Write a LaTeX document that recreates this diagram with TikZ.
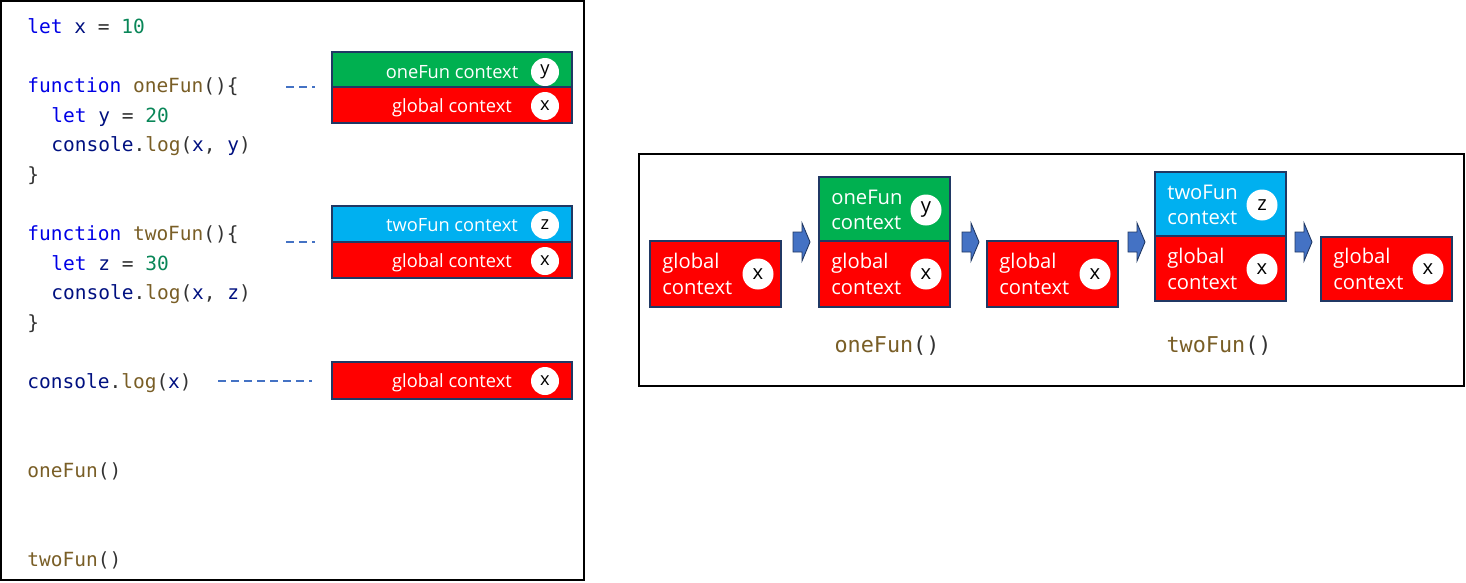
\documentclass[tikz,border=0pt]{standalone}
\usepackage{fontspec}
\setmainfont{Open Sans}
\setmonofont{DejaVu Sans Mono}
\usetikzlibrary{arrows.meta}

\definecolor{kwblue}{RGB}{0,0,230}
\definecolor{varnavy}{RGB}{0,16,128}
\definecolor{numgreen}{RGB}{9,134,88}
\definecolor{fnbrown}{RGB}{121,94,38}
\definecolor{punctgray}{RGB}{51,51,51}
\definecolor{ctxred}{RGB}{255,0,0}
\definecolor{ctxgreen}{RGB}{0,176,80}
\definecolor{ctxblue}{RGB}{0,176,240}
\definecolor{edgenavy}{RGB}{32,56,100}
\definecolor{dashblue}{RGB}{68,114,196}

\newcommand{\ckw}[1]{\textcolor{kwblue}{#1}}
\newcommand{\cvar}[1]{\textcolor{varnavy}{#1}}
\newcommand{\cnum}[1]{\textcolor{numgreen}{#1}}
\newcommand{\cfn}[1]{\textcolor{fnbrown}{#1}}

\begin{document}
\begin{tikzpicture}[
                x={(0.02cm,0cm)}, y={(0cm,-0.02cm)},
                code/.style={anchor=base west, inner sep=0pt, text=punctgray,
                    font=\ttfamily\fontsize{11.1}{13}\selectfont},
                call/.style={anchor=base, inner sep=0pt, text=punctgray,
                    font=\ttfamily\fontsize{12.4}{14}\selectfont},
                ctxbox/.style={draw=edgenavy, line width=0.8pt},
                lefttext/.style={text=white, inner sep=0pt, text height=0.86em, text depth=0.14em,
                    font=\fontsize{10.4}{12}\selectfont},
                righttext/.style={text=white, align=left, anchor=west, inner sep=0pt,
                    font=\fontsize{11.5}{14.6}\selectfont},
                varcircle/.style={circle, fill=white, inner sep=0pt, minimum size=0.56cm,
                    font=\fontsize{10.4}{12}\selectfont},
                bigcircle/.style={varcircle, minimum size=0.62cm, font=\fontsize{11.5}{13}\selectfont},
                dashline/.style={dashblue, line width=0.9pt, dash pattern=on 4.5pt off 2.9pt} ]

            \useasboundingbox (0,0) rectangle (1466,582);

            \draw[line width=1.2pt] (1,1) rectangle (584,580);
            \draw[line width=0.9pt] (639,154) rectangle (1464,386);

            \node[code] (lx) at (27,33) {\ckw{let} \cvar{x} = \cnum{10}};
            \node[code] (fone) at (27,92) {\ckw{function} \cfn{oneFun}()\{};
            \node[code] (ly) at (51,122) {\ckw{let} \cvar{y} = \cnum{20}};
            \node[code] (logone) at (51,151) {\cvar{console}.\cfn{log}(\cvar{x}, \cvar{y})};
            \node[code] (endone) at (27,181) {\}};
            \node[code] (ftwo) at (27,240) {\ckw{function} \cfn{twoFun}()\{};
            \node[code] (lz) at (51,270) {\ckw{let} \cvar{z} = \cnum{30}};
            \node[code] (logtwo) at (51,299) {\cvar{console}.\cfn{log}(\cvar{x}, \cvar{z})};
            \node[code] (endtwo) at (27,329) {\}};
            \node[code] (logx) at (27,388) {\cvar{console}.\cfn{log}(\cvar{x})};
            \node[code] (runone) at (27,477) {\cfn{oneFun}()};
            \node[code] (runtwo) at (27,566) {\cfn{twoFun}()};

            \coordinate (dashonea) at (286,87);
            \coordinate (dashoneb) at (315,87);
            \coordinate (dashtwoa) at (286,242);
            \coordinate (dashtwob) at (315,242);
            \coordinate (dashglba) at (218,381);
            \coordinate (dashglbb) at (312,381);
            \draw[dashline] (dashonea) -- (dashoneb);
            \draw[dashline] (dashtwoa) -- (dashtwob);
            \draw[dashline] (dashglba) -- (dashglbb);

            \filldraw[ctxbox, fill=ctxgreen] (332,52) rectangle (572,87);
            \filldraw[ctxbox, fill=ctxred] (332,87) rectangle (572,123);
            \node[lefttext] (onectx) at (452,72) {oneFun context};
            \node[varcircle] (oney) at (545,72) {y};
            \node[lefttext] (oneglb) at (452,106) {global context};
            \node[varcircle] (onex) at (545,106) {x};

            \filldraw[ctxbox, fill=ctxblue] (332,206) rectangle (572,242);
            \filldraw[ctxbox, fill=ctxred] (332,242) rectangle (572,278);
            \node[lefttext] (twoctx) at (452,225) {twoFun context};
            \node[varcircle] (twoz) at (545,225) {z};
            \node[lefttext] (twoglb) at (452,261) {global context};
            \node[varcircle] (twox) at (545,261) {x};

            \filldraw[ctxbox, fill=ctxred] (332,362) rectangle (572,399);
            \node[lefttext] (lastglb) at (452,381) {global context};
            \node[varcircle] (lastx) at (545,381) {x};

            \filldraw[ctxbox, fill=ctxred] (650,241) rectangle (781,307);
            \node[righttext] (sonetxt) at (662,274) {global\\context};
            \node[bigcircle] (sonex) at (758,274) {x};

            \filldraw[ctxbox, fill=ctxgreen] (819,177) rectangle (950,241);
            \filldraw[ctxbox, fill=ctxred] (819,241) rectangle (950,307);
            \node[righttext] (stwoctx) at (831,210) {oneFun\\context};
            \node[bigcircle] (stwoy) at (926,210) {y};
            \node[righttext] (stwotxt) at (831,274) {global\\context};
            \node[bigcircle] (stwox) at (926,274) {x};

            \filldraw[ctxbox, fill=ctxred] (987,241) rectangle (1118,307);
            \node[righttext] (sthreetxt) at (999,274) {global\\context};
            \node[bigcircle] (sthreex) at (1095,274) {x};

            \filldraw[ctxbox, fill=ctxblue] (1155,172) rectangle (1286,236);
            \filldraw[ctxbox, fill=ctxred] (1155,236) rectangle (1286,301);
            \node[righttext] (sfourctx) at (1167,205) {twoFun\\context};
            \node[bigcircle] (sfourz) at (1262,205) {z};
            \node[righttext] (sfourtxt) at (1167,269) {global\\context};
            \node[bigcircle] (sfourx) at (1262,269) {x};

            \filldraw[ctxbox, fill=ctxred] (1321,237) rectangle (1452,301);
            \node[righttext] (sfivetxt) at (1333,269) {global\\context};
            \node[bigcircle] (sfivex) at (1428,269) {x};

            \foreach \ax in {793, 962, 1128, 1295} {
                    \filldraw[draw=edgenavy, fill=dashblue, line width=0.5pt]
                    (\ax,232) -- (\ax+9,232) -- (\ax+9,223) -- (\ax+17,242)
                    -- (\ax+9,261) -- (\ax+9,252) -- (\ax,252) -- cycle;
                }

            \node[call] (callone) at (887,352) {\cfn{oneFun}()};
            \node[call] (calltwo) at (1219,352) {\cfn{twoFun}()};

        \end{tikzpicture}
\end{document}
